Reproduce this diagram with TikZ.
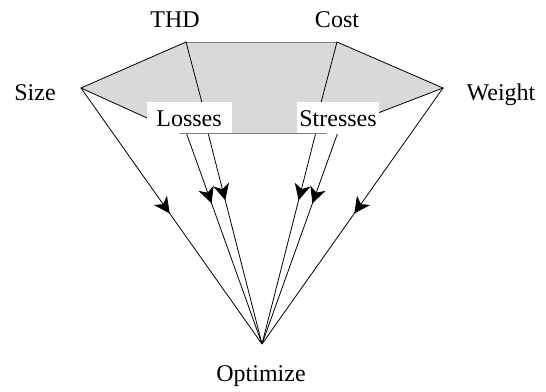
\documentclass[tikz,border=0pt]{standalone}
\usepackage{fontspec}
\setmainfont{Liberation Serif}
\usetikzlibrary{arrows.meta, decorations.markings}
\definecolor{fillGray}{HTML}{D9D9D9}
\definecolor{edgeGray}{HTML}{7F7F7F}
\tikzset{
  lbl/.style={font=\fontsize{18}{21}\selectfont, anchor=base, inner sep=0pt},
  labelbox/.style={fill=white, font=\fontsize{18}{21}\selectfont, anchor=base,
               inner xsep=0pt, inner ysep=1.5pt, text height=16.8pt, text depth=3.6pt},
  wire/.style={line width=0.6pt},
  flow/.style={line width=0.6pt, postaction={decorate},
               decoration={markings, mark=at position #1 with {\arrow{Stealth[length=12pt, width=12pt, inset=3.5pt]}}}},
}

\begin{document}
\begin{tikzpicture}[x=0.75pt, y=-0.75pt]
\useasboundingbox (0,0) rectangle (546,392);
% corners of the top face
\coordinate (size) at (81,88);
\coordinate (thd) at (186,42);
\coordinate (cost) at (337,42);
\coordinate (weight) at (443,88);
\coordinate (ll) at (180,133);
\coordinate (lr) at (326,133);
\coordinate (ti) at (210,133);
\coordinate (ci) at (313,133);
\coordinate (apex) at (262,344);
% feet of the lines under the boxes
\coordinate (l1) at (186.7,134);
\coordinate (l2) at (208.3,134);
\coordinate (s1) at (315.5,134);
\coordinate (s2) at (337.3,134);

\fill[fillGray] (size) -- (thd) -- (cost) -- (weight) -- (lr) -- (ll) -- cycle;
\draw[wire, edgeGray] (thd) -- (cost);
\draw[wire, edgeGray] (ll) -- (lr);
\draw[wire] (ll) -- (size) -- (thd) -- (ti);
\draw[wire] (lr) -- (weight) -- (cost) -- (ci);

\draw[flow=0.49] (size) -- (apex);
\draw[flow=0.49] (weight) -- (apex);
\draw[flow=0.33] (l1) -- (apex);
\draw[flow=0.315] (l2) -- (apex);
\draw[flow=0.315] (s1) -- (apex);
\draw[flow=0.33] (s2) -- (apex);

\node[lbl] (thdl) at (175,28) {THD};
\node[lbl] (costl) at (337,28) {Cost};
\node[lbl] (sizel) at (35,101) {Size};
\node[lbl] (weightl) at (501,101) {Weight};
\node[lbl] (optl) at (261,381.5) {Optimize};
\node[labelbox, minimum width=63.75pt] (loss) at (189,126.7) {Losses};
\node[labelbox, minimum width=61.7pt] (stress) at (338,126.7) {Stresses};
\end{tikzpicture}
\end{document}
